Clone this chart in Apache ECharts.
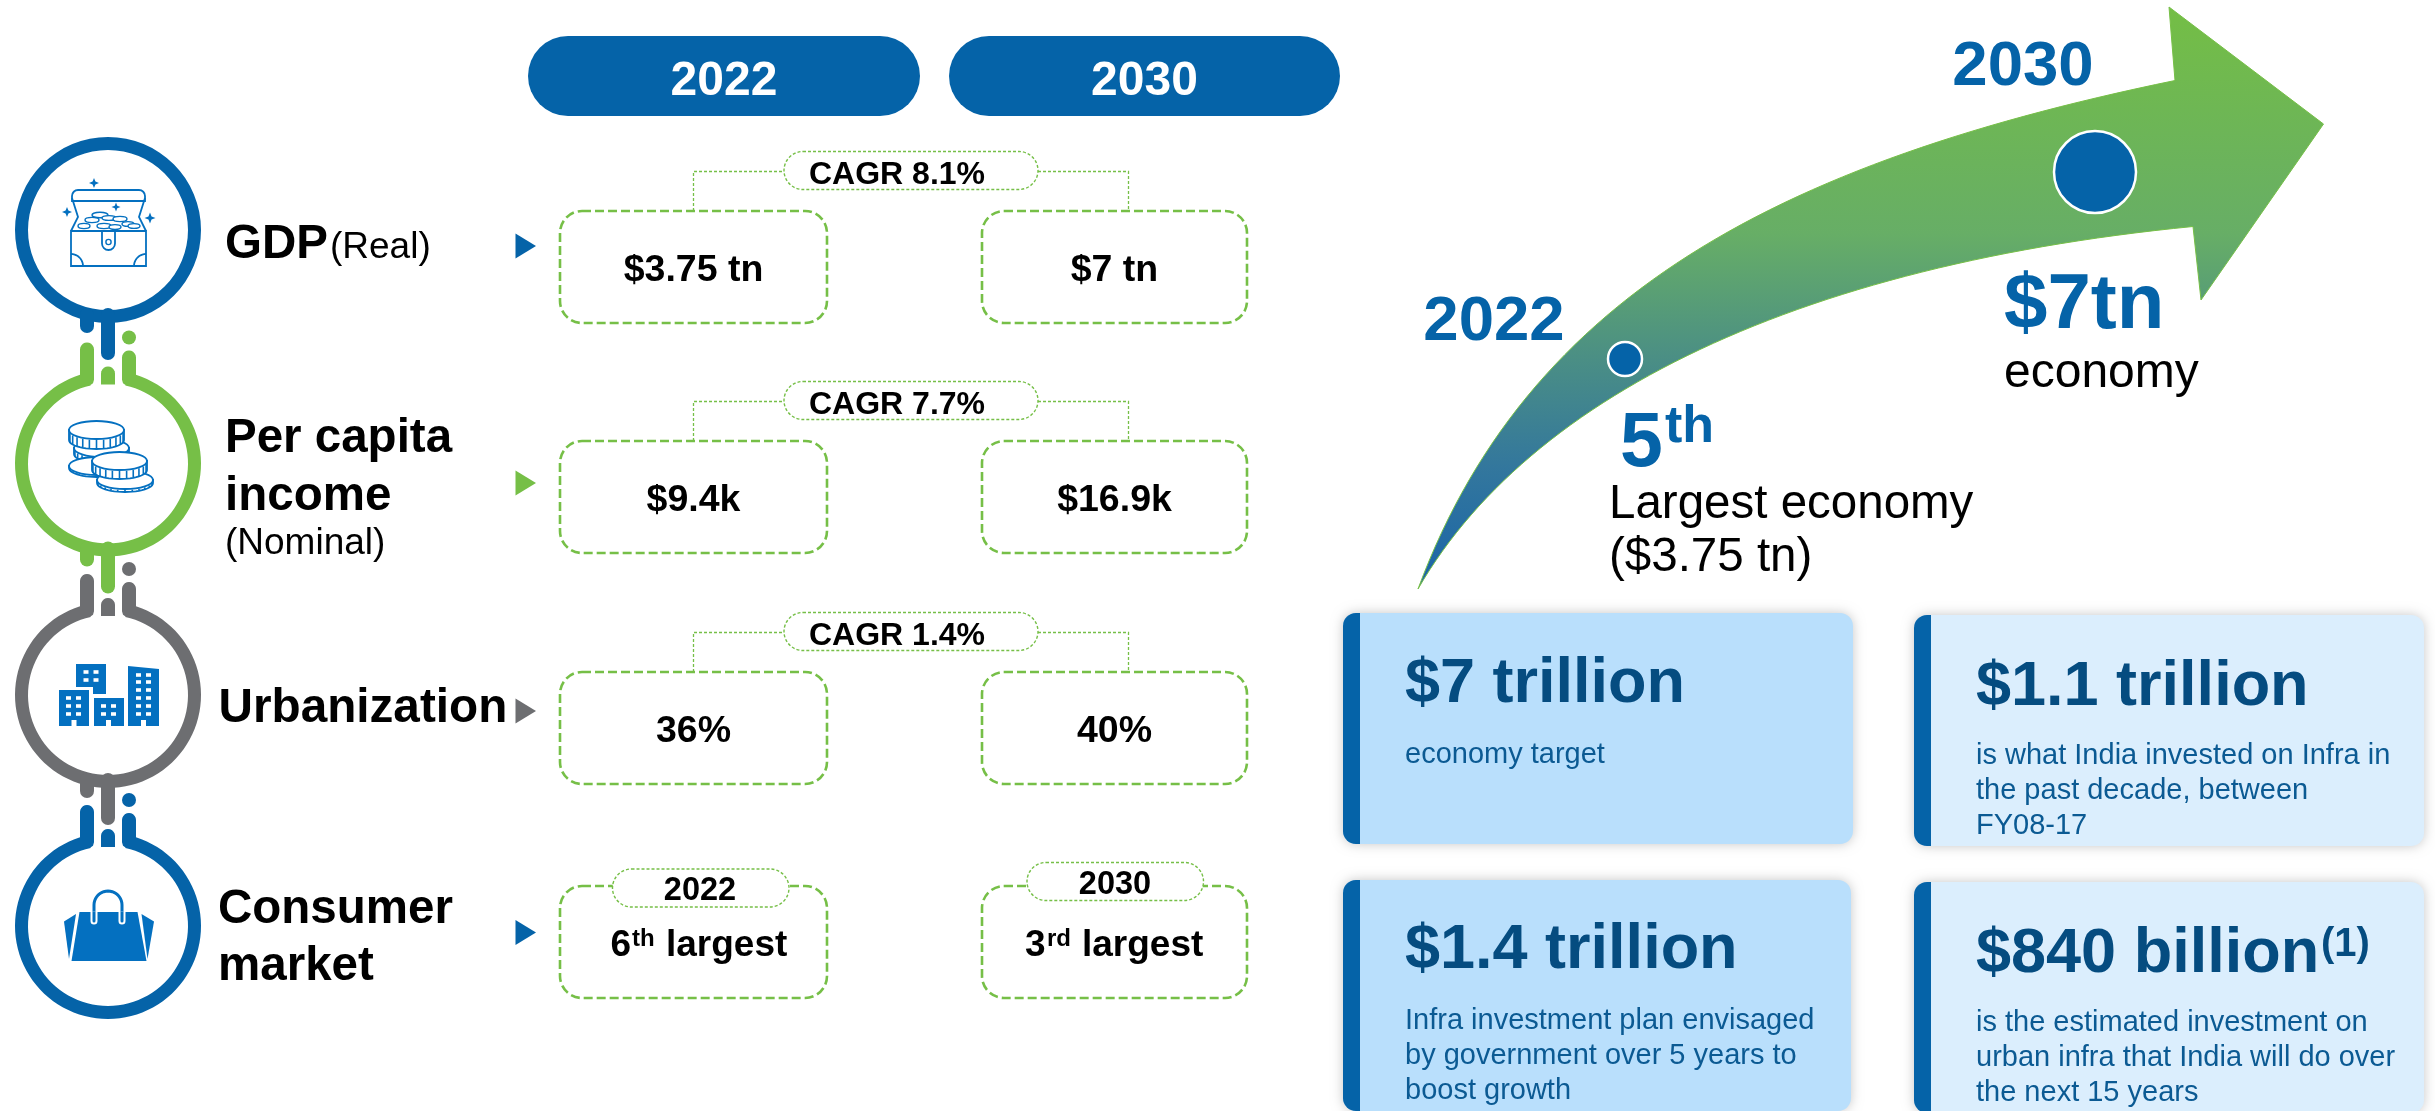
<!DOCTYPE html>
<html>
<head>
<meta charset="utf-8">
<title>India 2022 vs 2030</title>
<style>
  html, body { margin: 0; padding: 0; background: #fff; }
  #main { width: 2435px; height: 1111px; }
</style>
<script src="https://cdn.jsdelivr.net/npm/echarts@6/dist/echarts.min.js"></script>
</head>
<body>
<div id="main"></div>
<script>
// values
const yearLabels = ['2022', '2030'];
const values2022 = ['$3.75 tn', '$9.4k', '36%'];
const values2030 = ['$7 tn', '$16.9k', '40%'];
const cagrLabels = ['CAGR 8.1%', 'CAGR 7.7%', 'CAGR 1.4%'];
const rank2022 = ['6', 'th', 'largest'];
const rank2030 = ['3', 'rd', 'largest'];
const cardTitles = ['$7 trillion', '$1.1 trillion', '$1.4 trillion', '$840 billion'];
const cardBodies = [
  ['economy target'],
  ['is what India invested on Infra in', 'the past decade, between', 'FY08-17'],
  ['Infra investment plan envisaged', 'by government over 5 years to', 'boost growth'],
  ['is the estimated investment on', 'urban infra that India will do over', 'the next 15 years']
];

const BLUE = '#0563a8';
const ICON = '#0470c0';
const GREEN = '#76bf47';
const GREY = '#6d6e71';
const NAVY = '#054c80';
const FONT = '"Liberation Sans", Arial, sans-serif';

const els = [];

// text placed by its baseline
function txt(x, base, s, size, color, bold, align) {
  els.push({
    type: 'text',
    style: {
      x: x, y: base - 0.3465 * size + 1.5 + 0.05 * size, text: s,
      fontFamily: FONT, fontSize: size, fontWeight: bold ? 'bold' : 'normal',
      fill: color, align: align || 'left', verticalAlign: 'middle'
    }
  });
}
function poly(points, fill) {
  els.push({ type: 'polygon', shape: { points: points }, style: { fill: fill } });
}
function stroke(type, shape, color, w, extra) {
  els.push({ type: type, shape: shape, style: Object.assign({ fill: 'none', stroke: color, lineWidth: w }, extra || {}) });
}
function seg(x1, y1, x2, y2, color, w, cap) {
  stroke('line', { x1: x1, y1: y1, x2: x2, y2: y2 }, color, w, { lineCap: cap || 'butt' });
}
function arcPts(cx, cy, r, a0, a1, n, ry) {
  const out = [];
  for (let i = 0; i <= n; i++) {
    const a = (a0 + (a1 - a0) * i / n) * Math.PI / 180;
    out.push([cx + r * Math.cos(a), cy + (ry || r) * Math.sin(a)]);
  }
  return out;
}
function bez(p0, p1, p2, p3, n) {
  const out = [];
  for (let i = 0; i <= n; i++) {
    const t = i / n, u = 1 - t;
    out.push([
      u * u * u * p0[0] + 3 * u * u * t * p1[0] + 3 * u * t * t * p2[0] + t * t * t * p3[0],
      u * u * u * p0[1] + 3 * u * u * t * p1[1] + 3 * u * t * t * p2[1] + t * t * t * p3[1]
    ]);
  }
  return out;
}

// ---- left column: rings ----
const CX = 108;
function ringWithStems(cy, color, dotColor) {
  const iy = cy - Math.sqrt(80 * 80 - 14 * 14);
  const oy = cy - Math.sqrt(93 * 93 - 28 * 28);
  const lTop = cy - 121 + 7, rTop = cy - 113 + 7;
  let p = [];
  p = p.concat(arcPts(87, lTop, 7, 180, 360, 10));
  p.push([94, iy - 5], [93, iy - 1.5], [90.5, iy + 0.2]);
  p = p.concat(arcPts(CX, cy, 80, -102.5, -437.5, 90));
  p.push([125.5, iy + 0.2], [123, iy - 1.5], [122, iy - 5]);
  p = p.concat(arcPts(129, rTop, 7, 180, 360, 10));
  p.push([136, oy]);
  p = p.concat(arcPts(CX, cy, 93, -72.5, 252.5, 90));
  p.push([80, oy]);
  poly(p, color);
  // middle stem, round top and flat foot
  const mid = arcPts(CX, cy - 97 + 7, 7, 180, 360, 10);
  mid.push([115, cy - 79], [101, cy - 79]);
  poly(mid, color);
  els.push({ type: 'circle', shape: { cx: 129, cy: cy - 126, r: 7 }, style: { fill: dotColor } });
}
function drips(cy, color) {
  seg(87, cy + 85, 87, cy + 96, color, 14, 'round');
  seg(108, cy + 85, 108, cy + 123, color, 14, 'round');
}

els.push({ type: 'ring', shape: { cx: CX, cy: 230, r: 93, r0: 80 }, style: { fill: BLUE } });
drips(230, BLUE);
ringWithStems(463.5, GREEN, GREEN);
drips(463.5, GREEN);
ringWithStems(695, GREY, GREY);
drips(695, GREY);
ringWithStems(926, BLUE, BLUE);

// chest icon
function sparkle(x, y, r) {
  poly([[x, y - r], [x + r * 0.28, y - r * 0.28], [x + r, y], [x + r * 0.28, y + r * 0.28], [x, y + r], [x - r * 0.28, y + r * 0.28], [x - r, y], [x - r * 0.28, y - r * 0.28]], ICON);
}
const LW = 1.8;
function chest() {
  stroke('rect', { x: 71, y: 231, width: 75, height: 35 }, ICON, LW);
  stroke('rect', { x: 72, y: 190, width: 73, height: 11, r: [6, 6, 0, 0] }, ICON, LW);
  stroke('polyline', { points: [[72, 198], [78, 217], [71, 231]] }, ICON, LW);
  stroke('polyline', { points: [[145, 198], [139, 217], [146, 231]] }, ICON, LW);
  const coins = [[84, 226, 6, 2.6], [92, 220, 7, 2.6], [100, 215, 8, 2.8], [109, 218, 7, 2.4], [120, 219, 7, 2.6], [104, 226, 7, 2.6], [115, 227, 6, 2.4], [128, 224, 6, 2.4], [134, 226, 6, 2.4]];
  coins.forEach(function (c) {
    els.push({ type: 'ellipse', shape: { cx: c[0], cy: c[1], rx: c[2], ry: c[3] }, style: { fill: '#fff', stroke: ICON, lineWidth: 1.4 } });
  });
  els.push({ type: 'rect', shape: { x: 102, y: 231, width: 13, height: 19, r: [0, 0, 6.5, 6.5] }, style: { fill: '#fff', stroke: ICON, lineWidth: LW } });
  els.push({ type: 'circle', shape: { cx: 108.5, cy: 242, r: 2.6 }, style: { fill: '#fff', stroke: ICON, lineWidth: 1.4 } });
  stroke('polyline', { points: arcPts(71, 266, 12, -90, 0, 10) }, ICON, LW);
  stroke('polyline', { points: arcPts(146, 266, 12, 180, 270, 10) }, ICON, LW);
  sparkle(94, 183, 5); sparkle(67, 212, 5); sparkle(116, 207, 4.5); sparkle(150, 218, 5.5);
}
chest();

// coin stack icon
function coin(x0, x1, yTop, yBot) {
  const rx = (x1 - x0) / 2, cx = (x0 + x1) / 2, ry = 9;
  const body = arcPts(cx, yBot - ry, rx, 0, 180, 24, ry);
  body.push([x0, yTop + ry], [x1, yTop + ry]);
  els.push({ type: 'polygon', shape: { points: body }, style: { fill: '#fff', stroke: ICON, lineWidth: 1.8 } });
  for (let a = 15; a <= 165; a += 15) {
    const r = a * Math.PI / 180;
    const tx = cx + rx * Math.cos(r);
    seg(tx, yTop + ry + ry * Math.sin(r) + 1, tx, yBot - ry + ry * Math.sin(r), ICON, 1.6);
  }
  els.push({ type: 'ellipse', shape: { cx: cx, cy: yTop + ry, rx: rx, ry: ry }, style: { fill: '#fff', stroke: ICON, lineWidth: 1.8 } });
}
coin(74, 129, 439, 463);
coin(69, 124, 457, 477);
coin(69, 124, 421, 449);
coin(97, 153, 471, 492);
coin(92, 147, 452, 479);

// buildings icon
function building(points, winXs, winYs, doorX) {
  poly(points, ICON);
  winYs.forEach(function (y) {
    winXs.forEach(function (x) {
      els.push({ type: 'rect', shape: { x: x - 2.5, y: y - 1.8, width: 5, height: 3.6 }, style: { fill: '#fff' } });
    });
  });
  if (doorX) {
    els.push({ type: 'rect', shape: { x: doorX - 2.5, y: 720, width: 5, height: 6 }, style: { fill: '#fff' } });
  }
}
building([[76, 664], [106, 664], [106, 694], [93, 694], [93, 687], [76, 687]], [86, 96], [672, 680], 0);
building([[59, 690], [89, 690], [89, 726], [59, 726]], [68.5, 78.5], [698, 706, 714], 74);
building([[94, 698], [124, 698], [124, 726], [94, 726]], [103.5, 113.5], [706, 714], 108.5);
building([[128, 666], [159, 669], [159, 726], [128, 726]], [138.5, 148.5], [675, 682, 690, 698, 706, 714], 143.5);

// bag icon
poly([[76, 914], [64, 921.5], [69, 959]], ICON);
poly([[141.5, 914], [154, 921.5], [147.5, 959]], ICON);
poly([[79.5, 912], [137.5, 912], [146.5, 961], [71.5, 961]], ICON);
const handle = [[94, 921]].concat(arcPts(108, 905, 14, 180, 360, 20)).concat([[122, 921]]);
stroke('polyline', { points: handle }, '#fff', 7, { lineCap: 'round' });
stroke('polyline', { points: handle }, ICON, 3, { lineCap: 'round' });
// the white halo only belongs inside the bag
els.push({ type: 'rect', shape: { x: 85, y: 885, width: 48, height: 26.5 }, style: { fill: '#fff' } });
stroke('polyline', { points: [[94, 911.5]].concat(arcPts(108, 905, 14, 180, 360, 20)).concat([[122, 911.5]]) }, ICON, 3);

// row titles
txt(225, 257, 'GDP', 47.5, '#000', true);
txt(330, 257, '(Real)', 37, '#000', false);
txt(225, 451, 'Per capita', 47.5, '#000', true);
txt(225, 509, 'income', 47.5, '#000', true);
txt(225, 553, '(Nominal)', 37, '#000', false);
txt(218.5, 721, 'Urbanization', 47.7, '#000', true);
txt(218, 922, 'Consumer', 47.5, '#000', true);
txt(218, 979, 'market', 47.5, '#000', true);

// row markers
[[246, BLUE], [483, GREEN], [711, GREY], [932.5, BLUE]].forEach(function (m) {
  poly([[515.5, m[0] - 12.5], [536, m[0]], [515.5, m[0] + 12.5]], m[1]);
});

// ---- middle column ----
function pill(x0, x1, y0, y1) {
  els.push({
    type: 'rect',
    shape: { x: x0, y: y0, width: x1 - x0, height: y1 - y0, r: (y1 - y0) / 2 },
    style: { fill: '#fff', stroke: GREEN, lineWidth: 1.4, lineDash: [3, 2] }
  });
}
function box(x0, x1, y0, y1) {
  els.push({
    type: 'rect',
    shape: { x: x0, y: y0, width: x1 - x0, height: y1 - y0, r: 22 },
    style: { fill: '#fff', stroke: GREEN, lineWidth: 2.6, lineDash: [9, 4] }
  });
}
const headerX = [[528, 920], [949, 1340]];
yearLabels.forEach(function (y, i) {
  els.push({
    type: 'rect',
    shape: { x: headerX[i][0], y: 36, width: headerX[i][1] - headerX[i][0], height: 80, r: 40 },
    style: { fill: BLUE }
  });
  txt((headerX[i][0] + headerX[i][1]) / 2, 94, y, 48, '#fff', true, 'center');
});

const BOX_A = [560, 827], BOX_B = [982, 1247];
const boxTops = [211, 441, 672];
boxTops.forEach(function (top, i) {
  box(BOX_A[0], BOX_A[1], top, top + 112);
  box(BOX_B[0], BOX_B[1], top, top + 112);
  const ly = top - 39.5;
  stroke('polyline', { points: [[693.5, top], [693.5, ly], [784, ly]] }, GREEN, 1.3, { lineDash: [3, 2] });
  stroke('polyline', { points: [[1038, ly], [1128.5, ly], [1128.5, top]] }, GREEN, 1.3, { lineDash: [3, 2] });
  pill(784, 1038, top - 59.5, top - 21.5);
  txt(809, top - 27.7, cagrLabels[i], 32, '#000', true);
  txt(693.5, top + 69.5, values2022[i], 37.5, '#000', true, 'center');
  txt(1114.5, top + 69.5, values2030[i], 37.5, '#000', true, 'center');
});

// consumer market row
box(BOX_A[0], BOX_A[1], 886, 998);
box(BOX_B[0], BOX_B[1], 886, 998);
pill(612.5, 789, 869, 907);
pill(1027, 1203.5, 862.5, 900.5);
txt(700, 899.5, yearLabels[0], 32.5, '#000', true, 'center');
txt(1115, 893.5, yearLabels[1], 32.5, '#000', true, 'center');
txt(610.5, 955, rank2022[0], 37, '#000', true);
txt(632, 945, rank2022[1], 24, '#000', true);
txt(666, 955, rank2022[2], 37, '#000', true);
txt(1025, 955, rank2030[0], 37, '#000', true);
txt(1047, 945, rank2030[1], 24, '#000', true);
txt(1082, 955, rank2030[2], 37, '#000', true);

// ---- growth arrow ----
const tail = [1418, 589];
const upper = bez(tail, [1527, 295], [1780, 162], [2175, 80.5], 60);
const lower = bez([2193, 226.5], [1800, 265], [1530, 395], tail, 60);
els.push({
  type: 'polygon',
  shape: { points: upper.concat([[2169, 7], [2323.5, 124], [2201, 300]]).concat(lower) },
  style: {
    stroke: GREEN, lineWidth: 1,
    fill: new echarts.graphic.LinearGradient(0, 0, 0, 1, [
      { offset: 0, color: '#74be45' },
      { offset: 0.39, color: '#67ae66' },
      { offset: 0.6, color: '#4b8f84' },
      { offset: 0.79, color: '#33779d' },
      { offset: 1, color: '#1a64a8' }
    ])
  }
});
els.push({ type: 'circle', shape: { cx: 2095, cy: 172, r: 41 }, style: { fill: BLUE, stroke: '#fff', lineWidth: 2.5 } });
els.push({ type: 'circle', shape: { cx: 1625, cy: 359, r: 17 }, style: { fill: BLUE, stroke: '#fff', lineWidth: 2.5 } });
txt(2023, 85, yearLabels[1], 63.5, BLUE, true, 'center');
txt(1494, 340, yearLabels[0], 63.5, BLUE, true, 'center');
txt(2004, 328, '$7tn', 78, BLUE, true);
txt(2004, 386, 'economy', 48, '#000', false);
txt(1620, 466, '5', 77, BLUE, true);
txt(1665, 441.5, 'th', 52, BLUE, true);
txt(1609, 517, 'Largest economy', 47.5, '#000', false);
txt(1609, 570, '($3.75 tn)', 47.5, '#000', false);

// ---- cards ----
const cardBoxes = [
  { x: 1343, y: 613, w: 510, h: 231, fill: '#b9dffc' },
  { x: 1914, y: 615, w: 510, h: 231, fill: '#dbeefd' },
  { x: 1343, y: 880, w: 508, h: 231, fill: '#b9dffc' },
  { x: 1914, y: 882, w: 510, h: 231, fill: '#dbeefd' }
];
const titleBase = [702, 705, 968, 972];
const bodyBase = [762, 763, 1028, 1030];
cardBoxes.forEach(function (c, i) {
  els.push({
    type: 'rect',
    shape: { x: c.x, y: c.y, width: c.w, height: c.h, r: 13 },
    style: { fill: c.fill, shadowBlur: 12, shadowColor: 'rgba(0,0,0,0.22)', shadowOffsetY: 0 }
  });
  els.push({
    type: 'rect',
    shape: { x: c.x, y: c.y, width: 17, height: c.h, r: [13, 0, 0, 13] },
    style: { fill: BLUE }
  });
  const tx = c.x + 62;
  txt(tx, titleBase[i], cardTitles[i], 63, NAVY, true);
  cardBodies[i].forEach(function (line, k) {
    txt(tx, bodyBase[i] + k * 35, line, 29, '#0b5a93', false);
  });
});
txt(2321, 955, '(1)', 40, NAVY, true);

const chart = echarts.init(document.getElementById('main'), null, { renderer: 'canvas' });
chart.setOption({
  animation: false,
  graphic: { elements: els }
});
</script>
</body>
</html>
